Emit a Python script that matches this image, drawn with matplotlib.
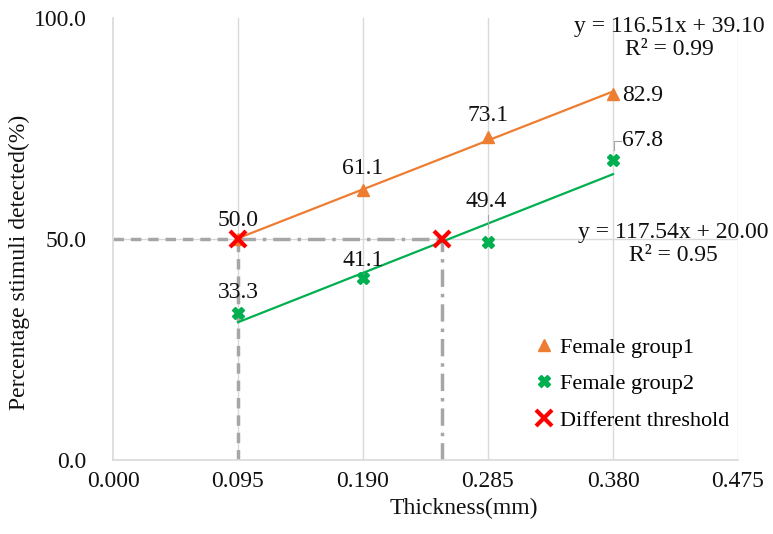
import matplotlib
matplotlib.use('Agg')
from matplotlib import pyplot as plt
import numpy as np

# Data
thickness = [0.095, 0.190, 0.285, 0.380]
group1 = [50.0, 61.1, 73.1, 82.9]
group2 = [33.3, 41.1, 49.4, 67.8]
threshold_x = [0.095, 0.25]
threshold_y = [50.0, 50.0]

# Trendline coefficients (slope, intercept, r2)
fit1 = (116.51, 39.10, 0.99)
fit2 = (117.54, 20.00, 0.95)

x_ticks = [0.000, 0.095, 0.190, 0.285, 0.380, 0.475]
y_ticks = [0.0, 50.0, 100.0]

ORANGE = '#ED7D31'
GREEN = '#00B050'
RED = '#FF0000'
GRID = '#D9D9D9'
DASH = '#A6A6A6'
FS = 17

plt.rcParams['font.family'] = ['Liberation Serif', 'DejaVu Serif']

fig = plt.figure(figsize=(7.73, 5.34), dpi=100)
ax = fig.add_axes([113 / 773, 74 / 534, 625 / 773, 442 / 534])

ax.set_xlim(0, 0.475)
ax.set_ylim(0, 100)
ax.set_xticks(x_ticks)
ax.set_yticks(y_ticks)
ax.set_xticklabels([f'{t:.3f}' for t in x_ticks])
ax.set_yticklabels([f'{t:.1f}' for t in y_ticks])
ax.tick_params(length=0, labelsize=FS, colors='#111111')
ax.tick_params(axis='y', pad=19)
ax.tick_params(axis='x', pad=8)

for side in ('top', 'right'):
    ax.spines[side].set_visible(False)
for side in ('left', 'bottom'):
    ax.spines[side].set_color(GRID)
    ax.spines[side].set_linewidth(1.2)

for t in x_ticks[1:]:
    ax.axvline(t, color=GRID, lw=1, zorder=0)
ax.axhline(50, color=GRID, lw=1, zorder=0)

# threshold guide lines
ax.plot([0, threshold_x[0]], [50, 50], color=DASH, lw=2.5, ls=(0, (3, 2)), zorder=1)
ax.plot([threshold_x[0], threshold_x[0]], [0, 50], color=DASH, lw=2.5, ls=(0, (3, 2)), zorder=1)
ax.plot([threshold_x[0], threshold_x[1]], [50, 50], color=DASH, lw=2.5, ls=(0, (5, 2, 1, 2)), zorder=1)
ax.plot([threshold_x[1], threshold_x[1]], [0, 50], color=DASH, lw=2.5, ls=(0, (5, 2, 1, 2)), zorder=1)

# trendlines
xs = np.array([thickness[0], thickness[-1]])
ax.plot(xs, fit1[0] * xs + fit1[1], color=ORANGE, lw=1.6, zorder=2)
ax.plot(xs, fit2[0] * xs + fit2[1], color=GREEN, lw=1.6, zorder=2)

ax.plot(thickness, group1, ls='none', marker='^', ms=9, color=ORANGE,
        mec=ORANGE, zorder=3, label='Female group1')
ax.plot(thickness, group2, ls='none', marker='X', ms=9, color=GREEN,
        mec=GREEN, zorder=3, label='Female group2')
ax.plot(threshold_x, threshold_y, ls='none', marker='x', ms=11, mew=3,
        color=RED, zorder=4, label='Different threshold')

# data labels
lab_kw = dict(fontsize=FS, color='#111111', zorder=5)
ax.annotate(f'{group1[0]:.1f}', (thickness[0], group1[0]), xytext=(0, 18),
            textcoords='offset pixels', ha='center', va='center', **lab_kw)
ax.annotate(f'{group1[1]:.1f}', (thickness[1], group1[1]), xytext=(0, 21),
            textcoords='offset pixels', ha='center', va='center', **lab_kw)
ax.annotate(f'{group1[2]:.1f}', (thickness[2], group1[2]), xytext=(0, 21),
            textcoords='offset pixels', ha='center', va='center', **lab_kw)
ax.annotate(f'{group1[3]:.1f}', (thickness[3], group1[3]), xytext=(9, -2),
            textcoords='offset pixels', ha='left', va='center', **lab_kw)
ax.annotate(f'{group2[0]:.1f}', (thickness[0], group2[0]), xytext=(0, 20),
            textcoords='offset pixels', ha='center', va='center', **lab_kw)
ax.annotate(f'{group2[1]:.1f}', (thickness[1], group2[1]), xytext=(0, 18),
            textcoords='offset pixels', ha='center', va='center', **lab_kw)
ax.annotate(f'{group2[2]:.1f}', (thickness[2], group2[2]), xytext=(-2, 40),
            textcoords='offset pixels', ha='center', va='center', **lab_kw)
ax.plot([thickness[2], thickness[2]], [group2[2] + 3.0, group2[2] + 6.0], color=DASH, lw=0.8, zorder=2)
ax.annotate(f'{group2[3]:.1f}', (thickness[3], group2[3]), xytext=(9, 20),
            textcoords='offset pixels', ha='left', va='center', **lab_kw)
ax.plot([thickness[3] + 0.001, thickness[3] + 0.001, thickness[3] + 0.006],
        [group2[3] + 2.4, group2[3] + 4.4, group2[3] + 4.4], color=DASH, lw=0.8, zorder=2)

# equations
ax.text(669 / 773, (534 - 38) / 534,
        f'y = {fit1[0]:.2f}x + {fit1[1]:.2f}\nR² = {fit1[2]:.2f}',
        transform=fig.transFigure, ha='center', va='center', fontsize=FS,
        linespacing=1.1, color='#111111')
ax.text(673 / 773, (534 - 244) / 534,
        f'y = {fit2[0]:.2f}x + {fit2[1]:.2f}\nR² = {fit2[2]:.2f}',
        transform=fig.transFigure, ha='center', va='center', fontsize=FS,
        linespacing=1.1, color='#111111')

ax.set_xlabel('Thickness(mm)', fontsize=FS, color='#111111')
ax.xaxis.set_label_coords(464 / 773, 26 / 534, transform=fig.transFigure)
ax.set_ylabel('Percentage stimuli detected(%)', fontsize=FS, color='#111111')
ax.yaxis.set_label_coords(19 / 773, (534 - 262) / 534, transform=fig.transFigure)
ax.xaxis.label.set_va('center')
ax.yaxis.label.set_va('center')

leg = ax.legend(loc='upper left', bbox_to_anchor=(533 / 773, (534 - 337) / 534),
                bbox_transform=fig.transFigure, frameon=False, fontsize=16,
                handlelength=1.0, handletextpad=0.2, labelspacing=0.72,
                borderaxespad=0, borderpad=0)

fig.savefig('out.png', dpi=100)
